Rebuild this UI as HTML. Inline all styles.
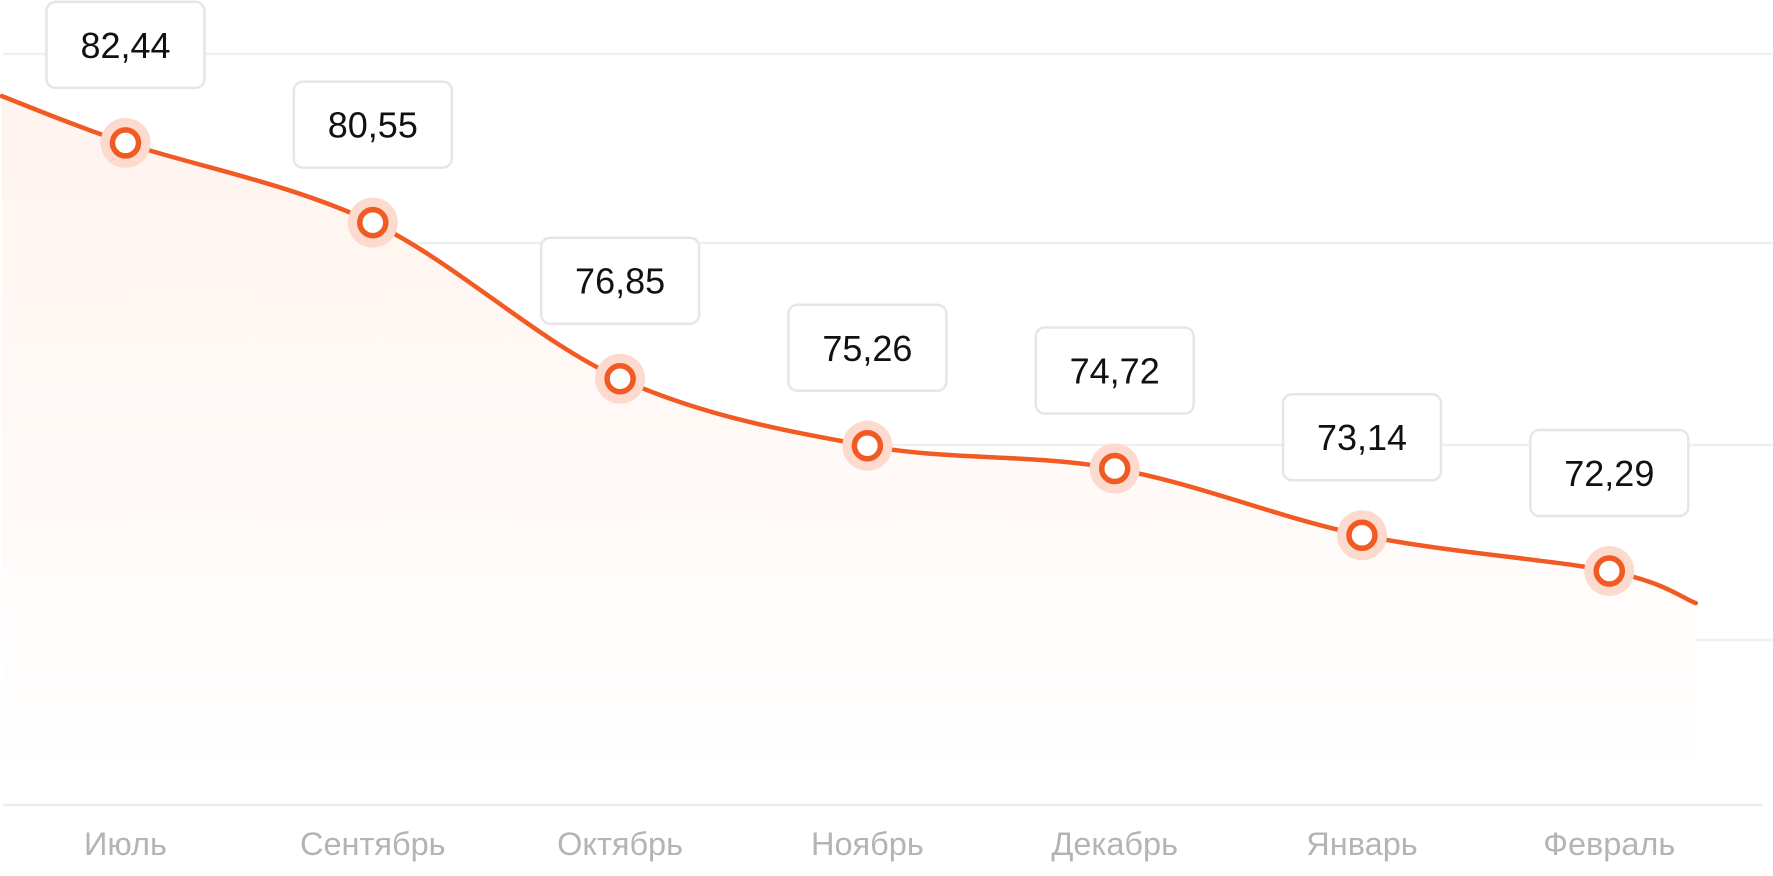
<!DOCTYPE html>
<html><head><meta charset="utf-8"><style>
html,body{margin:0;padding:0;background:#fff;}
svg{display:block;font-family:"Liberation Sans","DejaVu Sans",sans-serif;}
</style></head><body>
<svg id="chart" width="1773" height="876" viewBox="0 0 1773 876" xmlns="http://www.w3.org/2000/svg">
<defs>
<linearGradient id="fillGrad" x1="0" y1="90" x2="0" y2="780" gradientUnits="userSpaceOnUse">
<stop offset="0" stop-color="#fff3ee"/>
<stop offset="1" stop-color="#ffffff"/>
</linearGradient>
</defs>
<g id="grid"></g>
<path id="area" fill="url(#fillGrad)"/>
<path id="line" fill="none" stroke="#f15a22" stroke-width="4.5" stroke-linecap="round"/>
<g id="marks"></g>
<g id="xlabels"></g>
</svg>
<script>
const categories = ["Июль","Сентябрь","Октябрь","Ноябрь","Декабрь","Январь","Февраль"];
const values = [82.44, 80.55, 76.85, 75.26, 74.72, 73.14, 72.29];
const valueLabels = ["82,44","80,55","76,85","75,26","74,72","73,14","72,29"];
const leadValue = 83.55;
const tailValue = 71.53;

const NS = "http://www.w3.org/2000/svg";
function xScale(i){ return 125.5 + i*247.3; }
function yScale(v){ return 395 - 42.18*(v - 76.464); }

const gridYs = [54, 243, 445, 640];
const g = document.getElementById('grid');
gridYs.forEach(function(y){
  const l = document.createElementNS(NS,'line');
  l.setAttribute('x1',3); l.setAttribute('x2',1773); l.setAttribute('y1',y); l.setAttribute('y2',y);
  l.setAttribute('stroke','#efefef'); l.setAttribute('stroke-width','2.5');
  
  
  g.appendChild(l);
});
const base = document.createElementNS(NS,'line');
base.setAttribute('x1',3); base.setAttribute('x2',1762); base.setAttribute('y1',805); base.setAttribute('y2',805);
base.setAttribute('stroke','#ececec'); base.setAttribute('stroke-width','2.5');


g.appendChild(base);

const pts = [[xScale(-0.5), yScale(leadValue)]];
values.forEach(function(v,i){ pts.push([xScale(i), yScale(v)]); });
pts.push([xScale(6.35), yScale(tailValue)]);

function spline(p){
  let d = 'M'+p[0][0]+','+p[0][1];
  for(let i=0;i<p.length-1;i++){
    const p0 = p[i-1]||p[i], p1=p[i], p2=p[i+1], p3=p[i+2]||p[i+1];
    const c1x = p1[0]+(p2[0]-p0[0])/6, c1y = p1[1]+(p2[1]-p0[1])/6;
    const c2x = p2[0]-(p3[0]-p1[0])/6, c2y = p2[1]-(p3[1]-p1[1])/6;
    d += ' C'+c1x+','+c1y+' '+c2x+','+c2y+' '+p2[0]+','+p2[1];
  }
  return d;
}
const lineD = spline(pts);
document.getElementById('line').setAttribute('d', lineD);
const last = pts[pts.length-1];
document.getElementById('area').setAttribute('d', lineD+' L'+last[0]+',780 L'+pts[0][0]+',780 Z');

const marks = document.getElementById('marks');
values.forEach(function(v,i){
  const x = xScale(i), y = yScale(v);
  const grp = document.createElementNS(NS,'g');
  
  
  const halo = document.createElementNS(NS,'circle');
  halo.setAttribute('cx',x); halo.setAttribute('cy',y); halo.setAttribute('r',25); halo.setAttribute('fill','#fcdacd');
  
  
  const c = document.createElementNS(NS,'circle');
  c.setAttribute('cx',x); c.setAttribute('cy',y); c.setAttribute('r',13); c.setAttribute('fill','#fff');
  c.setAttribute('stroke','#f15a22'); c.setAttribute('stroke-width','5.5');
  
  
  grp.appendChild(halo); grp.appendChild(c);
  marks.appendChild(grp);

  const box = document.createElementNS(NS,'g');
  
  
  const r = document.createElementNS(NS,'rect');
  r.setAttribute('x',x-79); r.setAttribute('y',y-141); r.setAttribute('width',158); r.setAttribute('height',86);
  r.setAttribute('rx',9); r.setAttribute('fill','#fff'); r.setAttribute('stroke','#e6e6e6'); r.setAttribute('stroke-width','2.5');
  const t = document.createElementNS(NS,'text');
  t.setAttribute('x',x); t.setAttribute('y',y-85); t.setAttribute('text-anchor','middle');
  t.setAttribute('font-size','36'); t.setAttribute('fill','#111');
  t.textContent = valueLabels[i];
  
  
  box.appendChild(r); box.appendChild(t);
  marks.appendChild(box);
});

const xl = document.getElementById('xlabels');
categories.forEach(function(c,i){
  const t = document.createElementNS(NS,'text');
  t.setAttribute('x',xScale(i)); t.setAttribute('y',855); t.setAttribute('text-anchor','middle');
  t.setAttribute('font-size','32.5'); t.setAttribute('fill','#b4b4b4');
  t.textContent = c;
  
  
  xl.appendChild(t);
});
</script>
</body></html>
